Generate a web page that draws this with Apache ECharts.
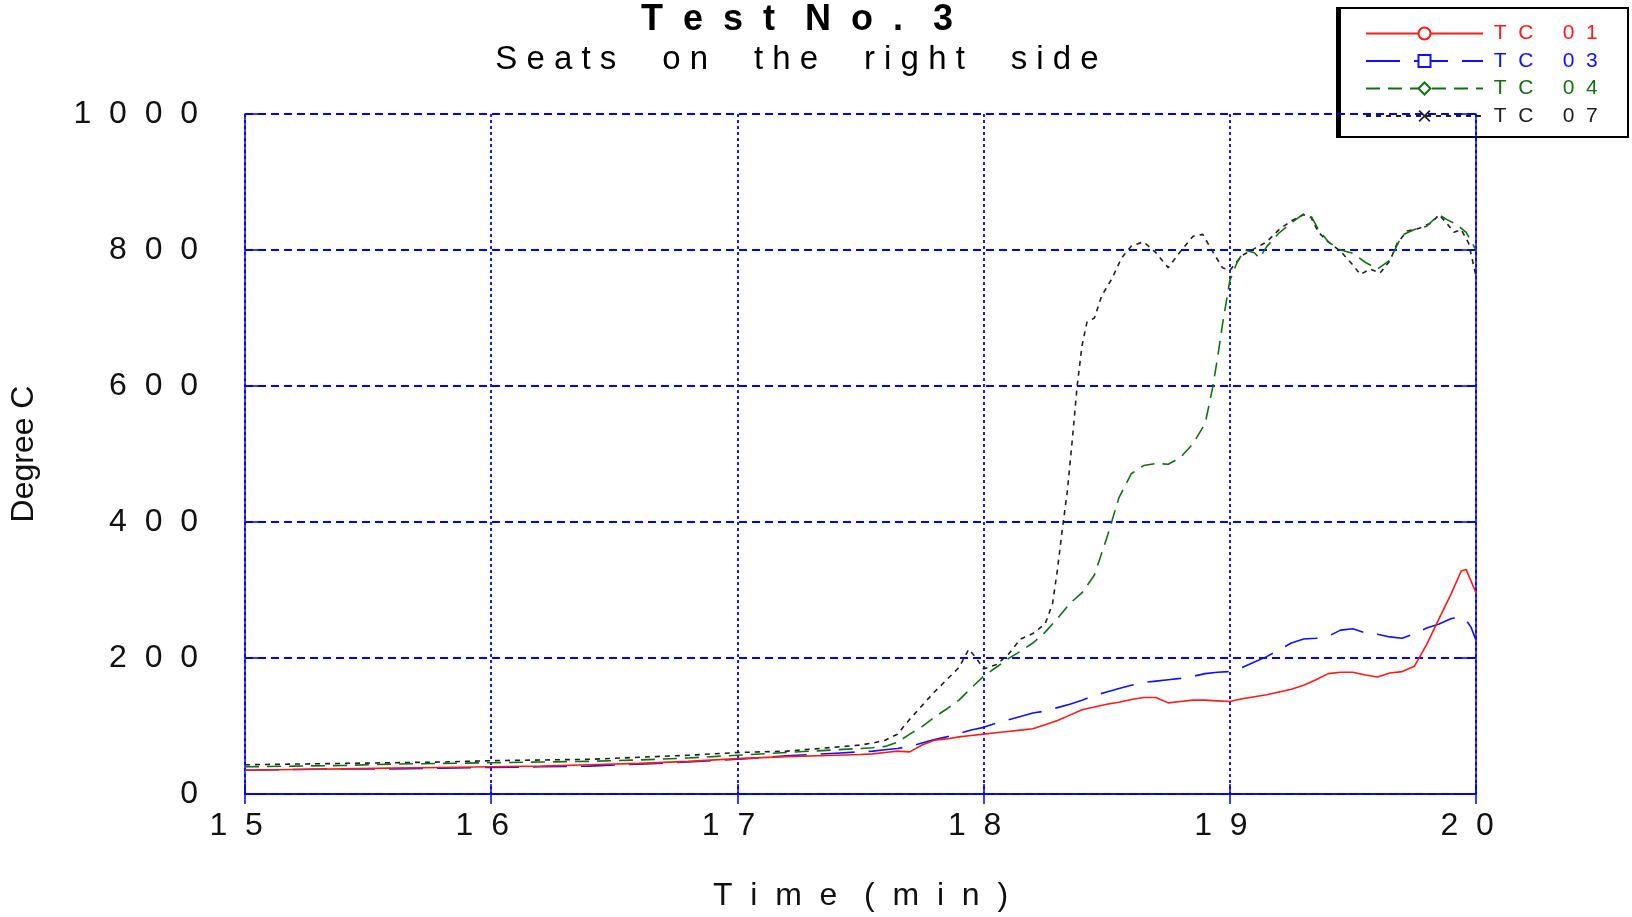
<!DOCTYPE html>
<html>
<head>
<meta charset="utf-8">
<title>Test No. 3</title>
<script src="https://cdn.jsdelivr.net/npm/echarts@6/dist/echarts.min.js"></script>
<style>
  html, body { margin: 0; padding: 0; background: #fff; }
  #chart { width: 1632px; height: 917px; }
</style>
</head>
<body>
<div id="chart"></div>
<script>
// Thermocouple temperatures (Degree C) against time (min)
const titleText = 'Test No. 3';
const subtitleText = 'Seats on the right side';
const xAxisLabel = 'Time (min)';
const yAxisLabel = 'Degree C';
const seriesNames = ['TC01', 'TC03', 'TC04', 'TC07'];
const xTicks = [15, 16, 17, 18, 19, 20];
const yTicks = [0, 200, 400, 600, 800, 1000];

const timeTC01 = [15.0, 15.2, 15.4, 15.6, 15.8, 16.0, 16.2, 16.4, 16.6, 16.8, 17.0, 17.2, 17.4, 17.5, 17.55, 17.6, 17.65, 17.7, 17.75, 17.8, 17.85, 17.9, 17.95, 18.0, 18.05, 18.1, 18.15, 18.2, 18.25, 18.3, 18.35, 18.4, 18.45, 18.5, 18.55, 18.6, 18.65, 18.7, 18.75, 18.8, 18.85, 18.9, 18.95, 19.0, 19.05, 19.1, 19.15, 19.2, 19.25, 19.3, 19.35, 19.4, 19.45, 19.5, 19.55, 19.6, 19.65, 19.7, 19.75, 19.8, 19.85, 19.9, 19.94, 19.96, 20.0];
const tempTC01 = [35, 36, 37, 38, 39, 40, 41, 43, 45, 48, 52, 55, 57, 58, 59, 61, 63, 62, 72, 79, 81, 84, 86, 88, 90, 92, 94, 96, 102, 108, 116, 124, 128, 132, 135, 139, 142, 142, 134, 136, 138, 138, 137, 136, 140, 143, 146, 150, 154, 160, 168, 177, 179, 179, 175, 172, 178, 180, 188, 220, 258, 295, 328, 330, 296];

const timeTC03 = [15.0, 15.2, 15.4, 15.6, 15.8, 16.0, 16.2, 16.4, 16.6, 16.8, 17.0, 17.2, 17.4, 17.5, 17.55, 17.6, 17.65, 17.7, 17.75, 17.8, 17.85, 17.9, 17.95, 18.0, 18.05, 18.1, 18.15, 18.2, 18.25, 18.3, 18.35, 18.4, 18.45, 18.5, 18.55, 18.6, 18.65, 18.7, 18.75, 18.8, 18.85, 18.9, 18.95, 19.0, 19.05, 19.1, 19.15, 19.2, 19.25, 19.3, 19.35, 19.4, 19.45, 19.5, 19.55, 19.6, 19.65, 19.7, 19.75, 19.8, 19.85, 19.9, 19.93, 19.96, 19.98, 20.0];
const tempTC03 = [35, 36, 37, 37, 38, 39, 40, 41, 44, 47, 51, 56, 60, 62, 63, 65, 67, 70, 75, 80, 84, 89, 94, 98, 104, 109, 114, 119, 122, 127, 132, 138, 145, 150, 155, 160, 164, 166, 168, 170, 173, 177, 179, 180, 186, 194, 202, 212, 222, 228, 229, 232, 241, 243, 237, 235, 231, 229, 236, 244, 250, 258, 260, 256, 245, 226];

const timeTC04 = [15.0, 15.2, 15.4, 15.6, 15.8, 16.0, 16.2, 16.4, 16.6, 16.8, 17.0, 17.2, 17.4, 17.5, 17.55, 17.6, 17.65, 17.7, 17.75, 17.8, 17.85, 17.9, 17.95, 18.0, 18.05, 18.1, 18.15, 18.2, 18.25, 18.3, 18.35, 18.4, 18.45, 18.5, 18.55, 18.6, 18.65, 18.7, 18.75, 18.8, 18.85, 18.9, 18.93, 18.95, 18.97, 19.0, 19.03, 19.06, 19.1, 19.12, 19.15, 19.2, 19.25, 19.3, 19.33, 19.36, 19.4, 19.45, 19.5, 19.55, 19.6, 19.65, 19.7, 19.75, 19.8, 19.85, 19.88, 19.92, 19.96, 20.0];
const tempTC04 = [40, 41, 42, 44, 45, 46, 47, 48, 50, 53, 57, 61, 65, 67, 68, 70, 76, 88, 99, 113, 125, 138, 156, 173, 186, 199, 210, 222, 238, 258, 280, 296, 322, 376, 436, 471, 483, 486, 485, 495, 515, 545, 597, 641, 690, 755, 782, 800, 796, 788, 805, 825, 840, 853, 850, 830, 812, 800, 795, 782, 772, 785, 822, 830, 835, 852, 845, 838, 826, 800];

const timeTC07 = [15.0, 15.2, 15.4, 15.6, 15.8, 16.0, 16.2, 16.4, 16.6, 16.8, 17.0, 17.2, 17.4, 17.5, 17.55, 17.6, 17.65, 17.7, 17.75, 17.8, 17.85, 17.9, 17.94, 17.97, 18.0, 18.05, 18.1, 18.15, 18.2, 18.25, 18.28, 18.3, 18.32, 18.34, 18.36, 18.38, 18.4, 18.42, 18.45, 18.48, 18.52, 18.56, 18.6, 18.65, 18.7, 18.75, 18.8, 18.85, 18.89, 18.93, 18.97, 19.0, 19.05, 19.1, 19.15, 19.2, 19.25, 19.3, 19.33, 19.36, 19.4, 19.45, 19.5, 19.53, 19.57, 19.61, 19.65, 19.68, 19.72, 19.77, 19.82, 19.85, 19.88, 19.91, 19.94, 19.97, 20.0];
const tempTC07 = [43, 44, 45, 46, 47, 49, 50, 51, 54, 57, 61, 63, 69, 72, 75, 79, 88, 110, 130, 150, 168, 186, 213, 200, 184, 190, 205, 228, 236, 250, 280, 330, 390, 445, 520, 600, 660, 694, 700, 733, 757, 788, 806, 812, 796, 774, 798, 820, 823, 798, 774, 770, 792, 802, 812, 830, 843, 852, 848, 826, 812, 798, 778, 764, 772, 766, 784, 810, 828, 832, 840, 852, 840, 826, 830, 810, 762];

const FONT = "'Liberation Sans', Arial, sans-serif";
const AXIS_BLUE = '#0000f0';

// Wide letter-spaced text: gap spaces between letters, wordGap between words
function spaced(str, gap, wordGap) {
  const g = ' '.repeat(gap);
  const w = ' '.repeat(wordGap);
  return str.split(' ').map(word => word.split('').join(g)).join(w);
}

function pairs(t, v) {
  return t.map((x, i) => [x, v[i]]);
}

const crossSymbol = 'path://M0,1L1,0L5,4L9,0L10,1L6,5L10,9L9,10L5,6L1,10L0,9L4,5Z';

const seriesStyles = [
  { color: '#ff1a1a', type: 'solid', symbol: 'emptyCircle' },
  { color: '#1010ff', type: [34, 14], symbol: 'emptyRect' },
  { color: '#137013', type: [14, 8], symbol: 'emptyDiamond' },
  { color: '#202020', type: [5, 5], symbol: crossSymbol }
];
const seriesData = [
  pairs(timeTC01, tempTC01),
  pairs(timeTC03, tempTC03),
  pairs(timeTC04, tempTC04),
  pairs(timeTC07, tempTC07)
];

const chart = echarts.init(document.getElementById('chart'), null, { renderer: 'canvas' });

const option = {
  animation: false,
  backgroundColor: '#ffffff',
  textStyle: { fontFamily: FONT },
  grid: { left: 240, right: 156, top: 114, bottom: 118, containLabel: false },
  graphic: [
    {
      type: 'text',
      style: {
        text: spaced(titleText, 2, 3), x: 797, y: 20,
        textAlign: 'center', textVerticalAlign: 'middle', verticalAlign: 'middle',
        font: "bold 36px " + FONT, fill: '#000'
      }
    },
    {
      type: 'text',
      style: {
        text: spaced(subtitleText, 1, 5), x: 797, y: 60,
        textAlign: 'center', textVerticalAlign: 'middle', verticalAlign: 'middle',
        font: "33px " + FONT, fill: '#000'
      }
    },
    {
      type: 'rect', z: -1,
      shape: { x: 1337, y: 8, width: 291, height: 129 },
      style: { fill: '#fff', stroke: '#000', lineWidth: 2 }
    },
    {
      type: 'rect', z: -1,
      shape: { x: 1336, y: 7, width: 5, height: 131 },
      style: { fill: '#000' }
    }
  ],
  legend: {
    orient: 'vertical',
    left: 1365, top: 23,
    padding: 0,
    itemWidth: 117, itemHeight: 15, itemGap: 6.5,
    data: seriesNames.map((n, i) => ({ name: n, textStyle: { color: seriesStyles[i].color } })),
    formatter: name => ' ' + spaced(name.slice(0, 2) + ' ' + name.slice(2), 2, 5),
    textStyle: { fontSize: 21, fontFamily: FONT }
  },
  xAxis: [
    {
      type: 'value', min: 15, max: 20, interval: 1, position: 'bottom',
      name: spaced(xAxisLabel, 2, 3), nameLocation: 'middle', nameGap: 86,
      nameTextStyle: { fontSize: 32, color: '#111', fontFamily: FONT },
      axisLine: { show: true, lineStyle: { color: AXIS_BLUE, width: 1.5 } },
      axisTick: { show: true, inside: true, length: 10, lineStyle: { color: AXIS_BLUE, width: 1.5 } },
      axisLabel: {
        show: true, margin: 16, fontSize: 32, color: '#111', fontFamily: FONT,
        formatter: v => spaced(String(v), 2, 2) + '  '
      },
      splitLine: { show: true, lineStyle: { color: AXIS_BLUE, width: 1.8, type: [3, 3] } }
    },
    {
      type: 'value', min: 15, max: 20, interval: 1, position: 'top',
      axisLine: { show: true, lineStyle: { color: AXIS_BLUE, width: 1.5 } },
      axisTick: { show: true, inside: true, length: 10, lineStyle: { color: AXIS_BLUE, width: 1.5 } },
      axisLabel: { show: false },
      splitLine: { show: false }
    }
  ],
  yAxis: [
    {
      type: 'value', min: 0, max: 1000, interval: 200, position: 'left',
      name: yAxisLabel, nameLocation: 'middle', nameGap: 205,
      nameTextStyle: { fontSize: 32, color: '#111', fontFamily: FONT },
      axisLine: { show: true, lineStyle: { color: AXIS_BLUE, width: 1.5 } },
      axisTick: { show: true, inside: true, length: 14, lineStyle: { color: AXIS_BLUE, width: 1.5 } },
      axisLabel: {
        show: true, margin: 47, fontSize: 32, color: '#111', fontFamily: FONT,
        formatter: v => spaced(String(v), 2, 2)
      },
      splitLine: { show: true, lineStyle: { color: AXIS_BLUE, width: 1.8, type: [8, 5] } }
    },
    {
      type: 'value', min: 0, max: 1000, interval: 200, position: 'right',
      axisLine: { show: true, lineStyle: { color: AXIS_BLUE, width: 1.5 } },
      axisTick: { show: true, inside: true, length: 14, lineStyle: { color: AXIS_BLUE, width: 1.5 } },
      axisLabel: { show: false },
      splitLine: { show: false }
    }
  ],
  series: seriesNames.map((name, i) => ({
    name: name,
    type: 'line',
    xAxisIndex: 0, yAxisIndex: 0,
    data: seriesData[i],
    symbol: seriesStyles[i].symbol,
    symbolSize: 11,
    showSymbol: false,
    smooth: false,
    itemStyle: { color: seriesStyles[i].color },
    lineStyle: { color: seriesStyles[i].color, width: 1.6, type: seriesStyles[i].type },
    z: 10 - i
  }))
};

chart.setOption(option);
</script>
</body>
</html>
